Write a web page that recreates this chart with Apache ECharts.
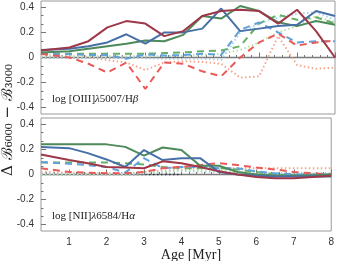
<!DOCTYPE html>
<html><head><meta charset="utf-8">
<script src="https://cdn.jsdelivr.net/npm/echarts@6/dist/echarts.min.js"></script>
<style>html,body{margin:0;padding:0;background:#fff}#c{width:337px;height:261px}</style>
</head><body><div id="c"></div>
<script>
const ages = [0.25,1,1.5,2,2.5,3,3.5,4,4.5,5,5.5,6,6.5,7,7.5,8];
// top panel: log [OIII]/Hbeta
const redSolidTop   = [0.055,0.08,0.13,0.24,0.29,0.27,0.17,0.21,0.33,0.37,0.38,0.37,0.27,0.38,0.21,0.0];
const blueSolidTop  = [0.06,0.07,0.09,0.12,0.185,0.11,0.2,0.2,0.23,0.39,0.21,0.23,0.25,0.26,0.37,0.33];
const greenSolidTop = [0.04,0.05,0.07,0.09,0.11,0.135,0.13,0.18,0.33,0.31,0.41,0.37,0.28,0.25,0.29,0.26];
const greenDashTop  = [0.03,0.03,0.03,0.03,0.03,0.03,0.035,0.04,0.05,0.055,0.09,0.27,0.34,0.3,0.32,0.27];
const blueDashTop   = [0.03,0.025,0.02,0.02,-0.01,0.025,0.015,0.02,0.03,0.02,0.22,0.28,0.2,0.12,0.13,0.13];
const redDashTop    = [0.03,0.0,-0.05,-0.12,-0.04,-0.25,-0.04,-0.05,-0.11,-0.15,0.0,0.12,0.19,0.095,0.12,0.135];
const salmonDotTop  = [0.02,0.01,0.0,-0.02,-0.04,-0.1,-0.04,-0.03,-0.035,-0.05,-0.16,-0.15,0.17,-0.06,-0.09,-0.08];
const ltBlueDotTop  = [0.0,0.0,0.0,0.0,0.0,-0.005,-0.01,-0.01,-0.01,-0.02,0.2,0.27,0.32,0.35,0.36,0.3];
const ltGreenDotTop = [0.01,0.01,0.01,0.01,0.01,0.01,0.01,0.015,0.02,0.03,0.06,0.12,0.2,0.25,0.33,0.28];
// bottom panel: log [NII]/Halpha
const greenSolidBot = [0.24,0.24,0.24,0.24,0.22,0.15,0.215,0.195,0.07,0.07,0.02,0.0,-0.01,-0.01,-0.005,0.0];
const blueSolidBot  = [0.22,0.21,0.17,0.12,0.06,0.195,0.115,0.13,0.13,0.02,0.0,-0.01,-0.015,-0.015,-0.015,-0.015];
const redSolidBot   = [0.16,0.115,0.09,0.06,0.055,0.05,0.105,0.09,0.06,0.025,0.0,-0.02,-0.03,-0.03,-0.02,-0.01];
const greenDashBot  = [0.095,0.095,0.095,0.095,0.09,0.08,0.06,0.05,0.05,0.05,0.04,0.02,0.0,-0.005,-0.005,0.0];
const blueDashBot   = [0.1,0.085,0.075,0.06,0.015,0.13,0.05,0.06,0.06,0.05,0.05,0.025,0.01,0.0,0.0,0.0];
const redDashBot    = [0.05,0.02,0.015,0.01,0.01,0.02,0.05,0.06,0.075,0.09,0.075,0.055,0.04,0.02,0.01,0.0];
const salmonDotBot  = [0.02,0.015,0.01,0.01,0.01,0.02,0.03,0.04,0.05,0.05,0.05,0.05,0.05,0.05,0.05,0.05];
const ltBlueDotBot  = [0.0,0.0,0.0,0.0,0.005,0.01,0.02,0.03,0.02,0.02,0.015,0.01,0.01,0.01,0.01,0.01];
const ltGreenDotBot = [0.0,0.0,0.0,0.0,0.0,0.01,0.02,0.03,0.03,0.03,0.02,0.01,0.005,0.0,0.0,0.0];
// reference lines
const zeroAges = [0.25,8];
const zeroVals = [0,0];
const navyAges = [0.25,4];
const navyVals = [0,0];
// tick labels
const xTickLabels = [1,2,3,4,5,6,7,8];
const yTickLabels = [-0.4,-0.2,0,0.2,0.4];

const xMinor = []; for (let k = 2; k <= 40; k++) xMinor.push(+(k*0.2).toFixed(2));
const yMinor = []; for (let k = -6; k <= 6; k++) yMinor.push(+(k*0.2/3).toFixed(4));

const pair = (xs, ys) => xs.map((x,i)=>[x, ys[i]]);
const chart = echarts.init(document.getElementById('c'), null, {renderer:'canvas'});

const grids = [
  {left:41, right:2, top:1, height:113, show:true, borderColor:'#9a9a9a', borderWidth:1},
  {left:41, right:2, top:118, height:113, show:true, borderColor:'#9a9a9a', borderWidth:1}
];
const xAxes = [], yAxes = [];
[0,1].forEach(g=>{
  xAxes.push({type:'value', gridIndex:g, min:0.25, max:8, position:'bottom',
    axisLine:{show:false}, splitLine:{show:false},
    axisTick:{show:true, inside:true, length:5, customValues:xTickLabels, lineStyle:{color:'#777'}},
    axisLabel:{show:g===1, customValues:xTickLabels, fontFamily:'Liberation Sans', fontSize:10, color:'#333', margin:6}});
  xAxes.push({type:'value', gridIndex:g, min:0.25, max:8, position:'bottom',
    axisLine:{show:false}, splitLine:{show:false},
    axisTick:{show:true, inside:true, length:2.5, customValues:xMinor, lineStyle:{color:'#777'}},
    axisLabel:{show:false}});
  yAxes.push({type:'value', gridIndex:g, min:-0.45, max:0.45, position:'left',
    axisLine:{show:false}, splitLine:{show:false},
    axisTick:{show:true, inside:true, length:5, customValues:yTickLabels, lineStyle:{color:'#777'}},
    axisLabel:{show:true, customValues:yTickLabels, fontFamily:'Liberation Sans', fontSize:10, color:'#333', margin:7,
      formatter:v=>String(+v.toFixed(1))}});
  yAxes.push({type:'value', gridIndex:g, min:-0.45, max:0.45, position:'left',
    axisLine:{show:false}, splitLine:{show:false},
    axisTick:{show:true, inside:true, length:2.5, customValues:yMinor, lineStyle:{color:'#777'}},
    axisLabel:{show:false}});
});

function mk(g, ys, color, type, width, z, xs){
  return {type:'line', xAxisIndex:g*2, yAxisIndex:g*2, data:pair(xs||ages, ys), symbol:'none',
    lineStyle:{color:color, type:type, width:width, cap:'butt'}, z:z, animation:false, silent:true};
}
const C = {red:'#9e3848', blue:'#4870a8', green:'#4d8a5a', gDash:'#64b064', bDash:'#62a2da',
  rDash:'#ea5a58', salmon:'#f6a58e', ltBlue:'#a9d2f0', ltGreen:'#b6e2a4', zero:'#7a7a7a', navy:'#2a3050'};
const dash = [7,5], dot = [1.5,2.5];
const series = [];
[[0,[salmonDotTop,ltBlueDotTop,ltGreenDotTop,greenDashTop,blueDashTop,redDashTop,greenSolidTop,blueSolidTop,redSolidTop]],
 [1,[salmonDotBot,ltBlueDotBot,ltGreenDotBot,greenDashBot,blueDashBot,redDashBot,greenSolidBot,blueSolidBot,redSolidBot]]]
.forEach(([g,arr])=>{
  series.push(mk(g, zeroVals, C.zero, 'solid', 1.6, 1, zeroAges));
  series.push(mk(g, navyVals, C.navy, dot, 1.5, 2, navyAges));
  series.push(mk(g, arr[0], C.salmon, dot, 2, 3));
  series.push(mk(g, arr[1], C.ltBlue, dot, 2, 3));
  series.push(mk(g, arr[2], C.ltGreen, dot, 2, 3));
  series.push(mk(g, arr[3], C.gDash, dash, 2, 4));
  series.push(mk(g, arr[4], C.bDash, dash, 2, 4));
  series.push(mk(g, arr[5], C.rDash, dash, 2, 4));
  series.push(mk(g, arr[6], C.green, 'solid', 2, 5));
  series.push(mk(g, arr[7], C.blue, 'solid', 2, 5));
  series.push(mk(g, arr[8], C.red, 'solid', 2, 5));
});

chart.setOption({
  animation:false,
  grid:grids, xAxis:xAxes, yAxis:yAxes, series:series,
  graphic:[
    {type:'text', left:52, top:94, z:10, style:{text:'log [OIII]{i|λ}5007/H{i|β}', fontFamily:'Liberation Serif', fontSize:11, fill:'#222',
      rich:{i:{fontStyle:'italic', fontFamily:'Liberation Serif', fontSize:11, fill:'#222'}}}},
    {type:'text', left:52, top:211, z:10, style:{text:'log [NII]{i|λ}6584/H{i|α}', fontFamily:'Liberation Serif', fontSize:11, fill:'#222',
      rich:{i:{fontStyle:'italic', fontFamily:'Liberation Serif', fontSize:11, fill:'#222'}}}},
    {type:'text', x:191, y:255, z:10, style:{text:'Age [Myr]', fontFamily:'Liberation Serif', fontSize:14, fill:'#222', align:'center', verticalAlign:'middle'}},
    {type:'text', x:8, y:120, rotation:Math.PI/2, z:10, style:{text:'Δ ℬ₆₀₀₀ − ℬ₃₀₀₀', fontFamily:'DejaVu Serif', fontSize:15, fill:'#222', align:'center', verticalAlign:'middle'}}
  ]
});
</script></body></html>
